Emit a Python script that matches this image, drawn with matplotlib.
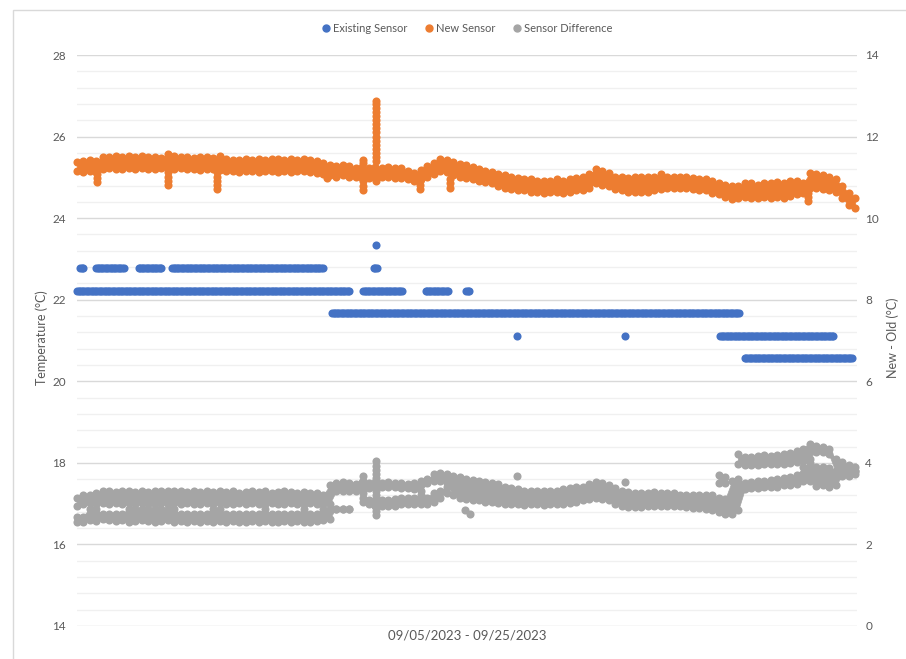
#!/usr/bin/env python3
"""
Existing vs new sensor temperatures, 09/05/2023 - 09/25/2023.
Excel-style scatter: temperatures on the left axis, new - old on the right.
"""

import numpy as np
import matplotlib.pyplot as plt
from matplotlib.lines import Line2D
from matplotlib.patches import Rectangle

# time of each reading band sample, hours since 09/05 00:00
hours = np.arange(0, 481, 4)

# New sensor (degC): upper and lower edge of the reading band
new_hi = [
    25.38, 25.4, 25.42, 25.4, 25.5, 25.5, 25.52, 25.5, 25.52, 25.5,
    25.52, 25.5, 25.5, 25.48, 25.58, 25.52, 25.5, 25.5, 25.48, 25.5,
    25.5, 25.48, 25.52, 25.45, 25.42, 25.42, 25.45, 25.42, 25.45, 25.42,
    25.45, 25.45, 25.42, 25.45, 25.42, 25.45, 25.42, 25.4, 25.35, 25.3,
    25.28, 25.3, 25.28, 25.22, 25.25, 25.22, 25.25, 25.22, 25.25, 25.22,
    25.22, 25.15, 25.1, 25.18, 25.28, 25.35, 25.45, 25.42, 25.38, 25.32,
    25.3, 25.25, 25.2, 25.15, 25.12, 25.08, 25.05, 25.0, 24.98, 24.95,
    24.95, 24.92, 24.9, 24.92, 24.95, 24.92, 24.95, 24.98, 25.02, 25.08,
    25.2, 25.15, 25.1, 25.02, 25.0, 24.98, 25.0, 25.0, 25.0, 25.02,
    25.08, 25.02, 25.02, 25.0, 25.0, 24.98, 24.95, 24.95, 24.9, 24.85,
    24.82, 24.78, 24.8, 24.85, 24.85, 24.82, 24.85, 24.85, 24.88, 24.85,
    24.9, 24.92, 24.85, 25.1, 25.08, 25.05, 25.0, 24.95, 24.8, 24.62,
    24.5,
]
new_lo = [
    25.15, 25.12, 25.15, 25.12, 25.2, 25.22, 25.2, 25.2, 25.22, 25.2,
    25.22, 25.2, 25.2, 25.22, 25.2, 25.2, 25.22, 25.2, 25.2, 25.18,
    25.2, 25.2, 25.18, 25.15, 25.15, 25.12, 25.15, 25.15, 25.12, 25.15,
    25.15, 25.12, 25.15, 25.12, 25.15, 25.15, 25.12, 25.1, 25.08, 25.05,
    25.02, 25.05, 25.02, 25.0, 24.98, 24.98, 24.98, 25.02, 25.0, 24.98,
    24.98, 24.95, 24.92, 24.95, 25.0, 25.08, 25.15, 25.12, 25.05, 25.02,
    24.98, 24.95, 24.9, 24.88, 24.85, 24.8, 24.75, 24.72, 24.7, 24.68,
    24.65, 24.65, 24.62, 24.65, 24.65, 24.62, 24.65, 24.68, 24.7, 24.75,
    24.85, 24.82, 24.78, 24.72, 24.68, 24.65, 24.65, 24.65, 24.65, 24.68,
    24.72, 24.75, 24.75, 24.75, 24.75, 24.72, 24.7, 24.68, 24.62, 24.58,
    24.52, 24.48, 24.5, 24.52, 24.5, 24.5, 24.52, 24.5, 24.52, 24.5,
    24.55, 24.6, 24.62, 24.75, 24.75, 24.72, 24.7, 24.65, 24.5, 24.32,
    24.25,
]
# short spikes and dips of the new sensor
new_extra_hours = [12.3, 12.3, 12.3, 56, 56, 56, 56, 86.4, 86.4, 86.4, 86.4, 86.4,
                   154, 176.5, 176.5, 176.5, 176.5, 176.5,
                   184.5, 184.5, 184.5, 184.5, 184.5, 184.5, 184.5, 184.5, 184.5, 184.5,
                   184.5, 184.5, 184.5, 184.5, 184.5, 184.5, 184.5, 184.5, 184.5,
                   211.6, 211.6, 211.6, 230, 230, 230, 451, 451, 451]
new_extra_temp = [24.88, 24.98, 25.08, 24.82, 24.92, 25.02, 25.12, 24.72, 24.82, 24.92, 25.02, 25.12,
                  24.98, 24.7, 24.8, 24.9, 25.35, 25.42,
                  25.4, 25.5, 25.6, 25.7, 25.8, 25.9, 26.0, 26.1, 26.2, 26.3,
                  26.4, 26.5, 26.6, 26.7, 26.8, 26.88, 24.92, 25.0, 25.1,
                  24.72, 24.82, 24.92, 24.75, 24.85, 24.95, 24.42, 24.52, 24.62]

# Existing sensor reads in whole degF: runs of constant readings
existing_temp = [22.22, 22.22, 22.22, 22.22, 22.78, 22.78, 22.78, 22.78, 22.78,
                 23.33, 21.67, 21.11, 21.11, 21.11, 20.56]
existing_start = [0, 176.4, 215, 240, 2, 11.7, 38, 58.6, 183,
                  184.5, 157.3, 271.4, 338, 396.7, 412]
existing_end = [168.4, 201, 229.5, 242, 4.3, 29.6, 52.4, 152.4, 185,
                184.5, 409, 271.4, 338, 467, 478.7]

nan = np.nan
# Sensor difference (new - old, degC): two bands, A and B
diff_a_hi = [
    3.15, 3.2, 3.22, 3.25, 3.3, 3.3, 3.28, 3.3, 3.32, 3.28,
    3.3, 3.28, 3.3, 3.32, 3.3, 3.32, 3.3, 3.28, 3.3, 3.28,
    3.3, 3.28, 3.3, 3.28, 3.3, 3.25, 3.28, 3.3, 3.28, 3.3,
    3.25, 3.28, 3.3, 3.28, 3.25, 3.28, 3.25, 3.25, 3.22, 3.45,
    3.5, 3.52, 3.5, 3.48, 3.52, 3.5, 3.52, 3.5, 3.52, 3.5,
    3.5, 3.48, 3.5, 3.55, 3.6, 3.72, 3.75, 3.72,
    3.68, 3.65, 3.6, 3.58, 3.55, 3.52, 3.5, 3.48,
    3.42, 3.38, 3.35, 3.3, 3.3, 3.32, 3.3, 3.32, 3.32, 3.35, 3.38, 3.4, 3.42, 3.48,
    3.52, 3.5, 3.45,
    3.38, 3.3, 3.28, 3.25, 3.25, 3.25, 3.28, 3.25, 3.25, 3.25, 3.22, 3.22, 3.2, 3.22, 3.2,
    3.2, 3.15, 3.12, 3.55, 3.6,
    3.5, 3.52, 3.55, 3.55, 3.58, 3.6, 3.62, 3.65, 3.7, 3.9,
    4.0, 3.9, 3.9, 3.88, 3.8, 3.85, 3.8, 3.8,
]
diff_a_lo = [
    2.95, 2.98, 3.02, 3.0, 3.02, 3.0, 3.02, 3.0, 3.02, 3.0,
    3.02, 3.0, 3.0, 3.02, 3.0, 3.02, 3.0, 3.02, 3.0, 3.0,
    3.02, 3.0, 3.02, 3.0, 3.0, 3.02, 3.0, 3.02, 3.0, 3.0,
    3.02, 3.0, 3.0, 3.02, 3.0, 3.0, 3.02, 3.0, 2.98, 3.0,
    3.32, 3.32, 3.3, 3.3, 3.35, 3.38, 3.42, 3.42, 3.42, 3.4,
    3.38, 3.38, 3.35, 3.3, 3.5, 3.55, 3.55, 3.5,
    3.2, 3.15, 3.12, 3.1, 3.08, 3.05, 3.05, 3.02,
    3.0, 2.98, 2.98, 2.97, 2.98, 2.98, 2.97, 2.98, 3.0, 3.0, 3.02, 3.05, 3.08, 3.12,
    3.15, 3.12, 3.08,
    3.0, 2.95, 2.92, 2.92, 2.92, 2.95, 2.95, 2.95, 2.95, 2.95, 2.95, 2.92, 2.9, 2.9, 2.88,
    2.85, 2.8, 2.75, 2.75, 2.85,
    3.36, 3.38, 3.38, 3.4, 3.42, 3.42, 3.45, 3.45, 3.48, 3.55,
    3.55, 3.44, 3.45, 3.42, 3.45, 3.68, 3.68, 3.72,
]
diff_b_hi = [
    2.68, 2.68, 2.86, 2.86, 2.74, 2.74, 2.74, 2.74, 2.86, 2.86,
    2.86, 2.86, 2.86, 2.86, 2.86, 2.86, 2.74, 2.74, 2.74, 2.74,
    2.74, 2.86, 2.86, 2.74, 2.74, 2.74, 2.74, 2.74, 2.74, 2.86,
    2.74, 2.74, 2.74, 2.74, 2.74, 2.86, 2.74, 2.74, 2.86, 2.86,
    2.88, 2.88, 2.88, nan, nan, 3.1, 3.1, 3.1, 3.1, 3.12,
    3.15, 3.15, 3.15, 3.2, 3.15, 3.25, 3.3, 3.4,
    nan, nan, nan, nan, nan, nan, nan, nan, nan, nan,
    nan, nan, nan, nan, nan, nan, nan, nan, nan, nan,
    nan, nan, nan, nan, nan, nan, nan, nan, nan, nan,
    nan, nan, nan, nan, nan, nan, nan, nan, nan, nan, nan,
    3.7, 3.65, nan,
    4.22, 4.15, 4.15, 4.18, 4.2, 4.18, 4.2, 4.22, 4.25, 4.3,
    4.35, 4.46, 4.42, 4.4, 4.35, 4.1, 4.02, 3.95, 3.9,
]
diff_b_lo = [
    2.56, 2.56, 2.6, 2.58, 2.62, 2.6, 2.58, 2.6, 2.56, 2.58,
    2.6, 2.58, 2.56, 2.58, 2.6, 2.56, 2.58, 2.56, 2.58, 2.56,
    2.58, 2.56, 2.58, 2.56, 2.58, 2.56, 2.56, 2.58, 2.56, 2.58,
    2.56, 2.56, 2.58, 2.56, 2.58, 2.56, 2.56, 2.58, 2.6, 2.62,
    2.86, 2.86, 2.86, nan, nan, 2.98, 2.95, 2.95, 2.95, 2.95,
    2.98, 3.0, 3.0, 2.98, 2.98, 3.05, 3.15, 3.25,
    nan, nan, nan, nan, nan, nan, nan, nan, nan, nan,
    nan, nan, nan, nan, nan, nan, nan, nan, nan, nan,
    nan, nan, nan, nan, nan, nan, nan, nan, nan, nan,
    nan, nan, nan, nan, nan, nan, nan, nan, nan, nan, nan,
    3.5, 3.5, nan,
    3.98, 3.95, 3.95, 3.95, 3.97, 3.97, 3.98, 3.98, 4.0, 4.02,
    4.05, 4.1, 4.26, 4.26, 4.22, 3.8, 3.85, 3.8, 3.8,
]
diff_extra_hours = [176.5, 176.5, 176.5, 176.5, 176.5, 176.5, 176.5,
                    184.5, 184.5, 184.5, 184.5, 184.5, 184.5, 184.5, 184.5, 184.5,
                    184.5, 184.5, 184.5, 184.5, 184.5,
                    239.4, 242.4, 271.4, 338]
diff_extra_val = [3.05, 3.15, 3.25, 3.35, 3.45, 3.55, 3.68,
                  2.72, 2.82, 2.92, 3.02, 3.12, 3.22, 3.32, 3.42, 3.52,
                  3.62, 3.72, 3.82, 3.92, 4.04,
                  2.85, 2.75, 3.68, 3.54]

BLUE = '#4472C4'
ORANGE = '#ED7D31'
GREY = '#A5A5A5'
TEXT = '#595959'
DOT = 34

plt.rcParams['font.family'] = ['Lato', 'DejaVu Sans']

W, H = 906, 659
fig = plt.figure(figsize=(W / 100, H / 100), dpi=100)
fig.patches.append(Rectangle((13 / W, -0.1), 2, 1.1 - 10 / H, transform=fig.transFigure,
                             fill=False, edgecolor='#d9d9d9', lw=1))

ax = fig.add_axes([77 / W, 1 - 626 / H, 780 / W, 571 / H])
ax.set_xlim(0, 481.2)
ax.set_ylim(14, 28)
ax.set_yticks(np.arange(14, 29, 2))
ax.set_yticks(np.arange(14, 28.01, 0.4), minor=True)
ax.grid(which='minor', axis='y', color='#f0f0f0', lw=1)
ax.grid(which='major', axis='y', color='#d9d9d9', lw=1)
ax.set_axisbelow(True)
ax.set_xticks([])
ax.tick_params(axis='y', which='both', length=0, pad=8, labelsize=8.5, labelcolor=TEXT)
for s in ax.spines.values():
    s.set_visible(False)

ax2 = ax.twinx()
ax2.set_ylim(0, 14)
ax2.set_yticks(np.arange(0, 15, 2))
ax2.tick_params(axis='y', length=0, pad=6, labelsize=8.5, labelcolor=TEXT)
for s in ax2.spines.values():
    s.set_visible(False)

# existing sensor runs
for t, h0, h1 in zip(existing_temp, existing_start, existing_end):
    hh = np.arange(h0, h1 + 0.01, 1.0)
    ax.scatter(hh, np.full(len(hh), t), s=DOT, color=BLUE, lw=0, clip_on=False, zorder=3)

# new sensor band
ax.fill_between(hours, new_lo, new_hi, color=ORANGE, lw=0.5, zorder=3)
ax.scatter(hours, new_hi, s=DOT, color=ORANGE, lw=0, clip_on=False, zorder=3)
ax.scatter(hours, new_lo, s=DOT, color=ORANGE, lw=0, clip_on=False, zorder=3)
ax.scatter(new_extra_hours, new_extra_temp, s=DOT, color=ORANGE, lw=0, zorder=3)

# sensor difference bands
for hi, lo in [(diff_a_hi, diff_a_lo), (diff_b_hi, diff_b_lo)]:
    hi = np.array(hi, dtype=float)
    lo = np.array(lo, dtype=float)
    ax2.fill_between(hours, lo, hi, color=GREY, lw=0.5, zorder=3)
    ax2.scatter(hours, hi, s=DOT, color=GREY, lw=0, clip_on=False, zorder=3)
    ax2.scatter(hours, lo, s=DOT, color=GREY, lw=0, clip_on=False, zorder=3)
ax2.scatter(diff_extra_hours, diff_extra_val, s=DOT, color=GREY, lw=0, zorder=3)

fig.text(42 / W, 1 - 338 / H, 'Temperature (°C)', rotation=90, ha='center', va='center',
         fontsize=9, color=TEXT)
fig.text(893 / W, 1 - 338 / H, 'New - Old (°C)', rotation=90, ha='center', va='center',
         fontsize=9, color=TEXT)
fig.text(467 / W, 1 - 636 / H, '09/05/2023 - 09/25/2023', ha='center', va='center',
         fontsize=9.5, color=TEXT)

handles = [Line2D([], [], ls='none', marker='o', ms=5, color=c, label=l)
           for c, l in [(BLUE, 'Existing Sensor'), (ORANGE, 'New Sensor'),
                        (GREY, 'Sensor Difference')]]
fig.legend(handles=handles, loc='center', bbox_to_anchor=(467 / W, 1 - 28 / H), ncol=3,
           frameon=False, fontsize=8, labelcolor=TEXT, handletextpad=0.2,
           columnspacing=1.6, handlelength=0.8)

fig.savefig('out.png', dpi=100)
